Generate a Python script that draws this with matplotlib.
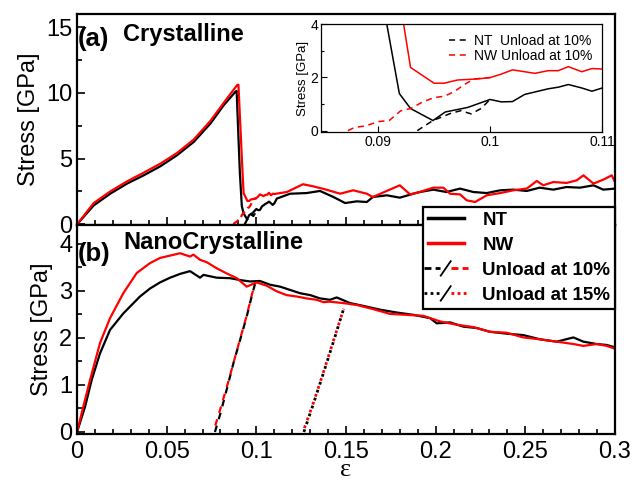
import matplotlib
matplotlib.use("Agg")
import matplotlib.pyplot as plt
from matplotlib.lines import Line2D

# ---- panel (a): crystalline ----
nt_a_eps = [0, 0.0093, 0.0186, 0.0279, 0.0372, 0.0465, 0.0558, 0.0651, 0.0744, 0.0818,
            0.0883, 0.0890,
            0.0908, 0.0919, 0.0929, 0.0949, 0.0960, 0.0980, 0.1000, 0.1010, 0.1020, 0.1031,
            0.1040, 0.1052, 0.1061, 0.1070, 0.1082, 0.1091, 0.1101, 0.1114, 0.1188, 0.128,
            0.1355, 0.143, 0.1495, 0.156, 0.1616, 0.165, 0.1727, 0.180, 0.1876, 0.1913,
            0.1987, 0.206, 0.2136, 0.221, 0.2285, 0.236, 0.2433, 0.2508, 0.258, 0.2656,
            0.273, 0.2805, 0.288, 0.2935, 0.300]
nt_a_str = [0, 1.44, 2.34, 3.10, 3.73, 4.42, 5.26, 6.27, 7.67, 9.06,
            10.08, 10.15,
            3.94, 1.39, 0.83, 0.38, 0.70, 0.87, 1.17, 1.08, 1.09, 1.36,
            1.45, 1.57, 1.63, 1.73, 1.60, 1.48, 1.61, 1.96, 2.33, 2.38,
            2.54, 2.08, 1.62, 1.75, 1.70, 2.08, 2.21, 2.03, 2.33, 2.46,
            2.64, 2.46, 2.72, 2.46, 2.38, 2.59, 2.64, 2.54, 2.79, 2.64,
            2.84, 2.79, 2.97, 2.64, 2.72]

nw_a_eps = [0, 0.0093, 0.0186, 0.0279, 0.0372, 0.0465, 0.0558, 0.0651, 0.0744, 0.0818,
            0.0892, 0.0900,
            0.0923, 0.0929, 0.0950, 0.0959, 0.0971, 0.0989, 0.1000, 0.1010, 0.1020, 0.1031,
            0.1040, 0.1052, 0.1061, 0.1070, 0.1082, 0.1091, 0.1101, 0.117, 0.126, 0.1318,
            0.139, 0.1467, 0.154, 0.1616, 0.165, 0.1727, 0.180, 0.1857, 0.191, 0.1987,
            0.2043, 0.208, 0.2136, 0.2173, 0.222, 0.2285, 0.236, 0.2433, 0.2508, 0.2564,
            0.260, 0.2656, 0.273, 0.2787, 0.2824, 0.288, 0.2935, 0.2982, 0.300]
nw_a_str = [0, 1.62, 2.51, 3.27, 3.93, 4.62, 5.43, 6.45, 7.87, 9.24,
            10.58, 10.62,
            3.94, 2.37, 1.78, 1.78, 1.90, 1.94, 1.99, 2.12, 2.28, 2.21,
            2.15, 2.25, 2.25, 2.40, 2.21, 2.33, 2.31, 2.46, 3.05, 2.89,
            2.64, 2.33, 2.59, 2.33, 2.08, 2.54, 2.97, 2.28, 2.46, 2.79,
            2.79, 2.33, 2.28, 1.83, 1.70, 2.21, 2.38, 2.59, 2.72, 3.30,
            2.97, 3.22, 3.15, 3.35, 3.73, 3.10, 3.40, 3.73, 3.22]

nt_a_unl_eps = [0.0935, 0.0949, 0.0965, 0.0974, 0.0983, 0.0992, 0.1000]
nt_a_unl_str = [0.0, 0.38, 0.65, 0.75, 0.63, 0.83, 1.17]
nw_a_unl_eps = [0.0873, 0.0879, 0.0889, 0.0900, 0.0910, 0.0920, 0.0929, 0.0940,
                0.0950, 0.0959, 0.0968, 0.0977, 0.0986, 0.1000]
nw_a_unl_str = [0.0, 0.12, 0.18, 0.34, 0.38, 0.74, 0.83, 1.08,
                1.24, 1.29, 1.46, 1.73, 1.94, 1.99]

# ---- panel (b): nanocrystalline ----
nt_b_eps = [0, 0.0045, 0.0082, 0.0128, 0.0184, 0.0258, 0.0351, 0.0407, 0.0463, 0.0519,
            0.0574, 0.063, 0.0686, 0.0705, 0.0779, 0.0853, 0.0909, 0.0965, 0.102, 0.1077,
            0.1132, 0.1188, 0.1244, 0.130, 0.1355, 0.141, 0.1448, 0.1523, 0.1597, 0.169,
            0.1783, 0.1876, 0.1969, 0.2006, 0.208, 0.2154, 0.2229, 0.2303, 0.2396, 0.2489,
            0.2582, 0.2675, 0.2768, 0.2824, 0.2898, 0.2954, 0.300]
nt_b_str = [0, 0.54, 1.11, 1.67, 2.17, 2.52, 2.88, 3.05, 3.18, 3.28,
            3.36, 3.42, 3.28, 3.34, 3.28, 3.27, 3.23, 3.20, 3.21, 3.13,
            3.09, 3.02, 2.95, 2.91, 2.84, 2.81, 2.86, 2.74, 2.68, 2.60,
            2.54, 2.49, 2.42, 2.31, 2.33, 2.24, 2.21, 2.13, 2.09, 2.06,
            1.97, 1.92, 2.01, 1.92, 1.87, 1.85, 1.80]

nw_b_eps = [0, 0.0035, 0.0073, 0.0128, 0.0184, 0.0258, 0.0333, 0.0407, 0.0463, 0.0519,
            0.0574, 0.063, 0.0649, 0.0686, 0.0723, 0.0779, 0.0835, 0.0891, 0.0946, 0.1002,
            0.1058, 0.1114, 0.1169, 0.1225, 0.128, 0.1337, 0.1374, 0.141, 0.1485, 0.156,
            0.1653, 0.1746, 0.1839, 0.1931, 0.2025, 0.2118, 0.221, 0.2303, 0.2396, 0.2489,
            0.2582, 0.2675, 0.2768, 0.2824, 0.2898, 0.2954, 0.300]
nw_b_str = [0, 0.54, 1.11, 1.89, 2.42, 2.95, 3.38, 3.59, 3.70, 3.75,
            3.80, 3.73, 3.77, 3.66, 3.61, 3.48, 3.37, 3.27, 3.09, 3.18,
            3.11, 2.99, 2.91, 2.88, 2.84, 2.81, 2.76, 2.77, 2.74, 2.70,
            2.61, 2.51, 2.49, 2.47, 2.35, 2.28, 2.23, 2.13, 2.11, 2.01,
            1.97, 1.92, 1.87, 1.83, 1.87, 1.83, 1.77]

unl10_nt_eps = [0.0769, 0.0800, 0.0840, 0.0872, 0.0905, 0.0946, 0.0975, 0.0995]
unl10_nt_str = [0.0, 0.40, 0.98, 1.46, 1.90, 2.45, 2.90, 3.18]
unl10_nw_eps = [0.0760, 0.0800, 0.0840, 0.0872, 0.0905, 0.0946, 0.0975, 0.0995]
unl10_nw_str = [0.0, 0.50, 1.02, 1.46, 1.92, 2.47, 2.92, 3.18]
unl15_nt_eps = [0.1265, 0.1320, 0.1374, 0.1430, 0.1487]
unl15_nt_str = [0.0, 0.62, 1.25, 1.92, 2.62]
unl15_nw_eps = [0.1260, 0.1320, 0.1374, 0.1430, 0.1487]
unl15_nw_str = [0.0, 0.64, 1.27, 1.94, 2.62]

x_ticks = [0, 0.05, 0.1, 0.15, 0.2, 0.25, 0.3]
x_labels = ["0", "0.05", "0.1", "0.15", "0.2", "0.25", "0.3"]
inset_ticks = [0.09, 0.1, 0.11]
inset_labels = ["0.09", "0.1", "0.11"]

plt.rcParams['font.family'] = ['Liberation Sans', 'DejaVu Sans']
RED = '#ff0000'
LW = 1.6


class UnloadKey:
    def __init__(self, ls):
        self.ls = ls


class UnloadHandler:
    # black piece / slash / red piece, as in the original legend
    def legend_artist(self, legend, orig_handle, fontsize, handlebox):
        x0, y0 = handlebox.xdescent, handlebox.ydescent
        w, h = handlebox.width, handlebox.height
        ym = y0 + h / 2
        a = Line2D([x0 - 0.12 * w, x0 + 0.33 * w], [ym, ym], color='k', ls=orig_handle.ls, lw=2)
        s = Line2D([x0 + 0.36 * w, x0 + 0.64 * w], [ym - 0.55 * h, ym + 0.55 * h], color='k', lw=1.3)
        b = Line2D([x0 + 0.66 * w, x0 + 1.12 * w], [ym, ym], color=RED, ls=orig_handle.ls, lw=2)
        for art in (a, s, b):
            art.set_transform(handlebox.get_transform())
            handlebox.add_artist(art)
        return a


fig = plt.figure(figsize=(6.34, 4.84), dpi=100)
ax1 = fig.add_axes([0.1215, 0.5351, 0.8485, 0.436])
ax2 = fig.add_axes([0.1215, 0.1023, 0.8485, 0.4328])

for ax in (ax1, ax2):
    for sp in ax.spines.values():
        sp.set_linewidth(1.6)
    ax.set_xlim(0, 0.3)
    ax.set_xticks(x_ticks)
    ax.set_xticks([i * 0.01 for i in range(31)], minor=True)
    ax.tick_params(which='both', direction='in', top=False, right=False, width=1.2)
    ax.tick_params(which='major', length=6, labelsize=17)
    ax.tick_params(which='minor', length=3.5)
    ax.tick_params(axis='x', which='major', pad=5)
    ax.set_ylabel("Stress [GPa]", fontsize=17, labelpad=4)

# panel (a)
ax1.plot(nt_a_eps, nt_a_str, color='k', lw=LW)
ax1.plot(nw_a_eps, nw_a_str, color=RED, lw=LW)
ax1.plot(nt_a_unl_eps, nt_a_unl_str, color='k', lw=LW, ls=(0, (3, 2)))
ax1.plot(nw_a_unl_eps, nw_a_unl_str, color=RED, lw=LW, ls=(0, (3, 2)))
ax1.set_ylim(-0.05, 16)
ax1.set_yticks([0, 5, 10, 15])
ax1.set_yticks([2.5, 7.5, 12.5], minor=True)
ax1.set_xticklabels([])
ax1.text(0.002, 0.88, "(a)", transform=ax1.transAxes, fontsize=18.5, fontweight='bold', va='center')
ax1.text(0.085, 0.905, "Crystalline", transform=ax1.transAxes, fontsize=17, fontweight='bold', va='center')

# panel (b)
l_nt, = ax2.plot(nt_b_eps, nt_b_str, color='k', lw=LW)
l_nw, = ax2.plot(nw_b_eps, nw_b_str, color=RED, lw=LW)
ax2.plot(unl10_nt_eps, unl10_nt_str, color='k', lw=LW, ls=(0, (3, 3)))
ax2.plot(unl10_nw_eps, unl10_nw_str, color=RED, lw=LW, ls=(3, (3, 3)))
ax2.plot(unl15_nt_eps, unl15_nt_str, color='k', lw=2, ls=(0, (1, 2)))
ax2.plot(unl15_nw_eps, unl15_nw_str, color=RED, lw=2, ls=(1.5, (1, 2)))
ax2.set_ylim(-0.053, 4.40)
ax2.set_yticks([0, 1, 2, 3, 4])
ax2.set_yticks([0.5, 1.5, 2.5, 3.5], minor=True)
ax2.set_xticklabels(x_labels)
ax2.set_xlabel("ε", fontsize=19, family=['Liberation Serif', 'DejaVu Serif'], labelpad=-3)
ax2.text(0.002, 0.86, "(b)", transform=ax2.transAxes, fontsize=18.5, fontweight='bold', va='center')
ax2.text(0.087, 0.915, "NanoCrystalline", transform=ax2.transAxes, fontsize=17, fontweight='bold', va='center')

# main legend across both panels
leg = fig.legend([l_nt, l_nw, UnloadKey((0, (2.5, 1.5))), UnloadKey((0, (1, 1.2)))],
                 ["NT", "NW", "Unload at 10%", "Unload at 15%"],
                 handler_map={UnloadKey: UnloadHandler()},
                 loc='upper right', bbox_to_anchor=(0.970, 0.572), borderaxespad=0,
                 fancybox=False, framealpha=1, edgecolor='k',
                 prop={'size': 13.5, 'weight': 'bold'}, handlelength=1.9,
                 handletextpad=1.0, labelspacing=0.42, borderpad=0.25)
leg.get_frame().set_linewidth(1.6)
for h in leg.legend_handles[:2]:
    h.set_linewidth(2.5)

# inset
axi = fig.add_axes([0.5063, 0.7273, 0.4432, 0.2231])
axi.plot(nt_a_eps, nt_a_str, color='k', lw=1.1)
axi.plot(nw_a_eps, nw_a_str, color=RED, lw=1.1)
axi.plot(nt_a_unl_eps, nt_a_unl_str, color='k', lw=1.1, ls=(0, (4, 3)), label="NT  Unload at 10%")
axi.plot(nw_a_unl_eps, nw_a_unl_str, color=RED, lw=1.1, ls=(0, (4, 3)), label="NW Unload at 10%")
axi.set_xlim(0.0849, 0.11)
axi.set_ylim(-0.05, 4)
axi.set_xticks(inset_ticks)
axi.set_xticklabels(inset_labels)
axi.set_yticks([0, 2, 4])
axi.set_yticks([1, 3], minor=True)
axi.tick_params(which='both', direction='in', labelsize=10, width=0.8, pad=2)
axi.tick_params(which='major', length=4)
axi.tick_params(which='minor', length=2)
for sp in axi.spines.values():
    sp.set_linewidth(0.9)
axi.set_ylabel("Stress [GPa]", fontsize=9.5, labelpad=1)
axi.legend(loc='upper right', frameon=False, fontsize=10, handlelength=1.3,
           handletextpad=0.5, labelspacing=0.1, borderaxespad=0.3)

fig.savefig("out.png", dpi=100)
